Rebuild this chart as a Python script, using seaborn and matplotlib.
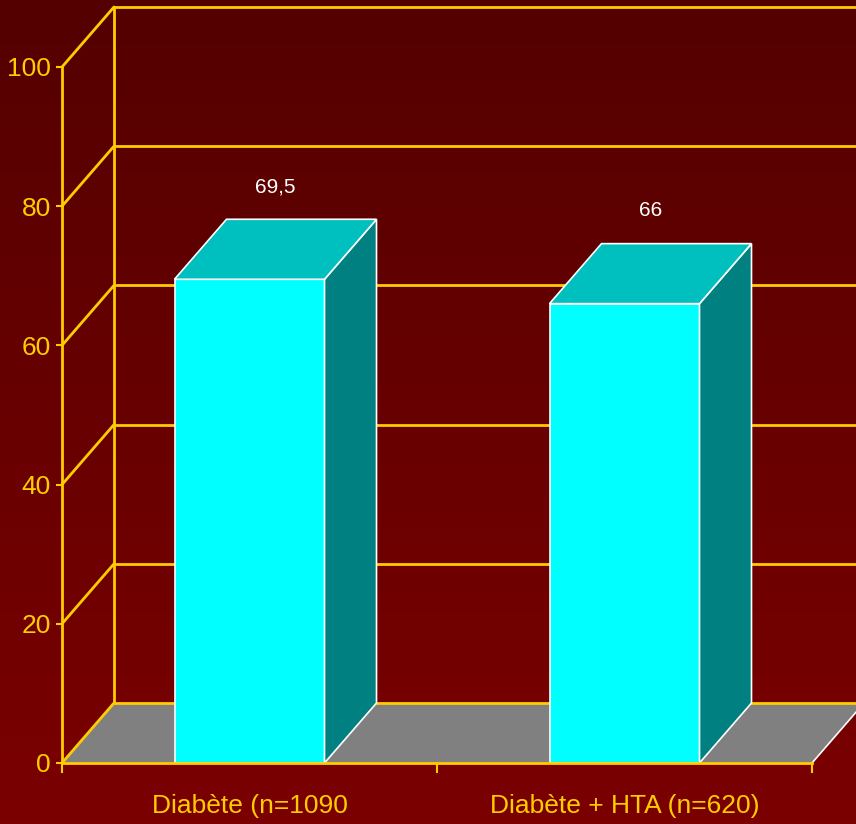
import numpy as np
import pandas as pd
import matplotlib
matplotlib.use("Agg")
import matplotlib.pyplot as plt
from matplotlib.patches import Polygon
import seaborn as sns

# Data
categories = ["Diabète (n=1090", "Diabète + HTA (n=620)"]
values = [69.5, 66]
value_labels = ["69,5", "66"]
y_ticks = [0, 20, 40, 60, 80, 100]

sns.set_theme(style="white")
plt.rcParams["font.family"] = ["Liberation Sans", "DejaVu Sans"]

YELLOW = "#FFCC00"
FRONT = "#00FFFF"
TOP = "#00BFBF"
SIDE = "#008080"
FLOOR = "#808080"

W, H = 856, 824
fig = plt.figure(figsize=(W / 100, H / 100), dpi=100)

# dark red vertical gradient backdrop
bg = fig.add_axes([0, 0, 1, 1], zorder=-10)
grad = np.linspace(0, 1, 256)[:, None]
top_c = np.array([84, 0, 0]) / 255
bot_c = np.array([123, 0, 0]) / 255
img = top_c[None, None, :] * (1 - grad[..., None]) + bot_c[None, None, :] * grad[..., None]
bg.imshow(np.repeat(img, 2, axis=1), aspect="auto", extent=[0, 1, 0, 1], origin="upper")
bg.set_axis_off()

left, right = 62 / W, 812 / W
bottom, top = (H - 763) / H, (H - 67) / H
ax = fig.add_axes([left, bottom, right - left, top - bottom])
ax.patch.set_alpha(0)

df = pd.DataFrame({"cat": categories, "val": values})
sns.barplot(data=df, x="cat", y="val", ax=ax, color=FRONT, saturation=1,
            width=0.4, edgecolor="white", linewidth=1.2, zorder=3)

ax.set_xlim(-0.5, 1.5)
ax.set_ylim(0, 100)

# depth offsets in data units
dx = 52 / 750 * 2.0
dy = 60 / 696 * 100.0
x0, x1 = -0.5, 1.5

# floor
floor = Polygon([(x0, 0), (x1, 0), (x1 + dx, dy), (x0 + dx, dy)], closed=True,
                facecolor=FLOOR, edgecolor="none", zorder=1, clip_on=False)
ax.add_patch(floor)
ax.plot([x1, x1 + dx], [0, dy], color="white", lw=1.2, zorder=1.5, clip_on=False)

# back wall and side wall grid
for v in y_ticks:
    ax.plot([x0 + dx, x1 + dx + 0.2], [v + dy, v + dy], color=YELLOW, lw=2, zorder=2, clip_on=False)
    ax.plot([x0, x0 + dx], [v, v + dy], color=YELLOW, lw=2, zorder=2, clip_on=False)
ax.plot([x0 + dx, x0 + dx], [dy, 100 + dy], color=YELLOW, lw=2, zorder=2, clip_on=False)

# 3D faces for each bar
for rect, lab in zip(ax.patches[:len(values)], value_labels):
    bx, bw, bh = rect.get_x(), rect.get_width(), rect.get_height()
    top_face = Polygon([(bx, bh), (bx + bw, bh), (bx + bw + dx, bh + dy), (bx + dx, bh + dy)],
                       closed=True, facecolor=TOP, edgecolor="white", lw=1.2, zorder=3, clip_on=False)
    side_face = Polygon([(bx + bw, 0), (bx + bw + dx, dy), (bx + bw + dx, bh + dy), (bx + bw, bh)],
                        closed=True, facecolor=SIDE, edgecolor="white", lw=1.2, zorder=3, clip_on=False)
    ax.add_patch(side_face)
    ax.add_patch(top_face)
    ax.text(bx + bw / 2 + dx / 2, bh + dy + 4.7, lab, color="white", fontsize=15,
            ha="center", va="center", zorder=5, clip_on=False)

# axes styling
for s in ["top", "right"]:
    ax.spines[s].set_visible(False)
for s in ["left", "bottom"]:
    ax.spines[s].set_color(YELLOW)
    ax.spines[s].set_linewidth(2)
    ax.spines[s].set_zorder(4)

ax.set_yticks(y_ticks)
ax.set_yticklabels([str(v) for v in y_ticks])
ax.set_xticks([-0.5, 0.5, 1.5])
ax.set_xticklabels(["", "", ""])
ax.set_xticks([0, 1], minor=True)
ax.set_xticklabels(categories, minor=True)
ax.tick_params(axis="y", which="major", colors=YELLOW, labelcolor=YELLOW, length=4,
               width=1.5, direction="out", labelsize=19, pad=4, left=True)
ax.tick_params(axis="x", which="major", colors=YELLOW, length=7, width=1.5,
               direction="out", bottom=True)
ax.tick_params(axis="x", which="minor", length=0, labelcolor=YELLOW, labelsize=19, pad=22)
ax.set_xlabel("")
ax.set_ylabel("")
ax.grid(False)

fig.savefig("out.png", dpi=100)
